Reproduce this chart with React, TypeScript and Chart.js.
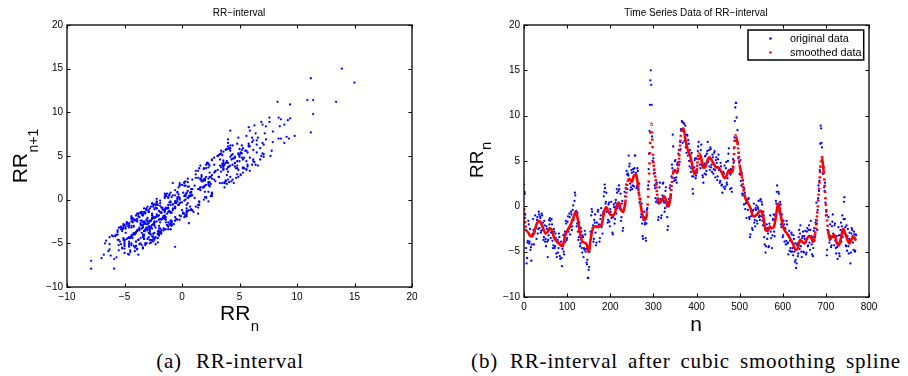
import React, { useEffect, useRef } from 'react';
import { Chart, registerables } from 'chart.js';

Chart.register(...registerables);

// ---------------- DATA ----------------
// RR-interval time series (original data), n = 0 .. 770
const originalData: number[] = [
  2.4, 1.6, 1.4, -0.9, -2.6, -4.6, -6.3, -5.7, -4.0, -3.8,
  -1.6, -2.0, -4.1, -3.9, -2.5, -4.8, -4.5, -6.0, -4.2, -3.1,
  -3.3, -1.4, -2.6, -4.2, -3.0, -2.8, -1.0, -2.4, -2.1, -3.6,
  -1.5, -1.2, -3.0, -2.5, -0.6, -0.9, -2.4, -1.1, -1.3, -2.9,
  -2.7, -0.8, -1.0, -2.6, -1.8, -3.7, -3.4, -1.6, -2.1, -3.9,
  -3.6, -4.4, -2.2, -2.5, -3.9, -5.6, -3.7, -3.2, -1.5, -2.0,
  -1.3, -1.6, -3.5, -2.9, -1.4, -2.0, -3.8, -4.6, -4.3, -2.5,
  -2.8, -4.6, -4.4, -3.0, -3.5, -5.2, -5.6, -4.0, -3.7, -5.1,
  -4.6, -3.0, -3.4, -5.5, -5.8, -4.2, -3.9, -5.7, -6.6, -4.7,
  -4.4, -3.2, -5.0, -5.3, -3.1, -2.8, -3.9, -1.6, -1.9, -3.7,
  -3.5, -1.7, -1.1, -2.8, -2.5, -0.8, -1.2, -3.1, -2.3, -0.6,
  -0.9, -2.6, -2.2, -0.4, 0.1, -1.5, -1.1, 0.6, 1.5, 1.2,
  -0.8, -0.5, -2.2, -1.9, -0.7, -2.8, -3.7, -3.4, -1.8, -2.3,
  -4.4, -4.1, -2.4, -2.8, -4.6, -5.1, -3.2, -3.4, -5.6, -4.6,
  -4.8, -2.7, -3.1, -5.0, -4.7, -6.2, -6.4, -5.9, -7.9, -7.9,
  -7.0, -6.7, -5.0, -4.6, -2.8, -3.1, -1.0, -0.3, -0.6, -2.4,
  -2.1, -3.9, -3.6, -1.5, -1.8, -0.9, -2.9, -4.3, -4.0, -1.8,
  -2.2, -0.6, -0.4, -2.3, -2.0, -3.9, -3.5, -1.4, -1.0, -0.2,
  -2.3, -2.0, -3.0, -0.8, -0.6, 1.1, 1.6, 2.4, 2.0, 0.3,
  0.5, 1.5, -0.6, -0.2, -1.8, -1.5, 0.2, 0.4, -1.7, -2.2,
  -0.3, -0.6, 0.5, -1.3, -1.0, -2.9, -3.1, -1.2, 0.2, -0.1,
  -1.9, -1.4, 0.4, 0.7, -0.8, 1.9, 1.5, -0.2, 0.0, 1.7,
  2.3, 1.9, 0.0, -0.3, 1.4, -1.6, -1.2, 0.3, 0.6, -2.7,
  -2.4, -0.5, -0.2, 1.6, 1.1, 0.2, 2.0, 2.4, 3.9, 3.5,
  1.9, 3.6, 3.4, 5.6, 4.4, 4.7, 2.5, 1.8, 2.1, 4.0,
  3.7, 1.9, 2.3, 4.1, 3.8, 2.2, 4.2, 5.6, 5.6, 3.4,
  3.7, 2.0, 2.2, 4.2, 3.9, 1.8, 1.4, 2.5, 0.4, 0.8,
  0.8, -1.2, -0.9, 0.3, -1.9, -3.3, -3.6, -1.5, -1.2, -0.6,
  -2.0, -1.8, -3.5, -3.8, -1.9, -0.4, -0.2, 1.9, 2.3, 4.1,
  5.8, 8.3, 11.2, 13.9, 15.0, 13.4, 11.2, 7.7, 5.0, 4.9,
  5.3, 3.6, 4.0, 2.3, 2.0, 0.9, 0.5, 2.4, 2.6, 0.7,
  0.4, -1.5, -1.2, 0.3, 2.1, 2.6, 0.8, 0.5, -1.3, -1.0,
  0.8, 1.2, 2.5, 2.6, 0.6, 0.4, -0.6, -0.2, 1.7, 2.1,
  0.3, 0.0, -1.2, -2.6, -2.2, 0.1, 0.8, 0.5, 2.0, 2.3,
  0.9, 1.2, 3.3, 4.6, 4.2, 7.9, 6.6, 3.9, 2.8, 3.1,
  5.0, 5.1, 2.9, 3.2, 2.6, 4.6, 4.8, 3.9, 5.8, 6.2,
  4.6, 4.9, 7.1, 6.3, 8.5, 8.4, 9.4, 9.3, 7.0, 8.6,
  9.2, 9.1, 7.2, 7.6, 8.9, 6.5, 6.8, 5.9, 7.9, 7.8,
  5.6, 7.3, 6.9, 5.0, 4.4, 6.2, 5.7, 3.8, 4.2, 5.9,
  3.3, 1.9, 1.4, 3.3, 3.9, 4.3, 5.1, 5.3, 3.1, 3.4,
  5.3, 3.7, 4.0, 6.1, 6.6, 7.1, 5.2, 5.3, 4.6, 4.2,
  6.2, 6.8, 4.6, 4.9, 3.4, 3.2, 2.6, 4.5, 4.7, 3.6,
  5.5, 5.6, 3.5, 3.9, 5.8, 6.1, 7.1, 4.9, 5.2, 6.2,
  4.4, 4.0, 6.5, 6.3, 4.3, 4.6, 3.8, 5.7, 5.4, 3.6,
  4.1, 5.9, 6.1, 4.0, 3.2, 5.1, 5.4, 4.8, 2.9, 3.3,
  5.2, 5.7, 4.0, 4.2, 2.6, 2.8, 4.8, 4.4, 2.3, 2.4,
  1.5, 3.6, 3.8, 2.1, 3.6, 4.5, 1.9, 2.2, 4.2, 4.9,
  2.6, 2.4, 3.1, 5.0, 5.8, 6.4, 4.0, 3.7, 1.9, 3.5,
  4.1, 2.0, 1.6, 3.9, 4.4, 5.2, 4.8, 6.4, 7.6, 9.4,
  10.9, 11.4, 11.4, 9.8, 7.3, 8.4, 7.0, 5.3, 5.9, 4.8,
  3.6, 3.5, 5.1, 2.8, 2.3, 3.7, 1.4, 1.2, 2.9, 2.1,
  0.2, 1.9, 1.5, -0.3, 0.3, 0.4, -1.3, 0.7, 0.5, -0.4,
  0.8, 0.9, -1.2, -1.4, -3.4, -3.1, -1.1, -0.3, -0.6, -2.4,
  -2.6, -0.5, -0.4, 0.3, -1.8, -1.5, -2.2, -0.2, -0.4, 0.1,
  -1.6, -1.9, -0.1, -0.3, 0.6, -1.2, -1.0, -1.5, 0.7, 0.8,
  -1.1, 0.5, 0.2, -1.6, -2.1, -0.6, -1.0, -3.4, -4.2, -2.3,
  -5.1, -4.4, -2.5, -2.0, -3.6, -2.4, -3.0, -4.5, -4.4, -1.9,
  -2.2, -1.0, -2.8, -3.5, -2.4, -4.6, -3.2, -1.5, -1.4, -0.9,
  -2.8, -3.3, -1.0, -1.4, 0.6, 0.3, 1.6, 2.3, -0.2, 0.2,
  1.6, 1.4, -0.6, -0.8, 0.5, 0.2, -2.0, -2.3, -0.9, -1.5,
  -3.4, -3.2, -1.6, -2.0, -3.9, -2.4, -2.5, -4.2, -3.8, -1.6,
  -2.0, -4.1, -4.0, -5.3, -3.2, -2.7, -4.9, -3.8, -4.6, -5.0,
  -2.9, -3.1, -5.0, -4.6, -5.4, -3.2, -3.6, -5.0, -6.1, -4.1,
  -5.9, -6.8, -6.3, -4.3, -4.1, -5.5, -5.2, -3.4, -2.6, -4.7,
  -3.0, -2.1, -4.4, -5.0, -5.6, -3.5, -3.3, -2.8, -5.0, -5.1,
  -3.3, -3.6, -2.7, -4.0, -5.3, -5.1, -2.8, -2.4, -4.4, -4.3,
  -2.6, -2.1, -4.0, -4.8, -2.6, -1.6, -3.3, -4.2, -5.3, -3.4,
  -5.5, -4.6, -2.7, -2.4, -3.8, -3.4, -1.8, -1.5, 0.4, -1.9,
  -2.6, -0.4, 0.9, 2.3, 1.7, 2.8, 4.0, 6.9, 8.9, 8.6,
  7.0, 6.5, 5.4, 3.6, 3.6, 4.3, 2.1, 1.7, 2.6, 0.4,
  -1.0, -0.6, -5.4, -4.8, -2.6, -2.9, -1.2, -3.4, -4.0, -3.7,
  -2.0, -3.3, -4.5, -4.3, -2.2, -1.7, -0.9, -3.0, -3.4, -4.3,
  -2.1, -1.9, -3.8, -4.6, -5.2, -3.3, -4.5, -5.8, -4.1, -2.3,
  -3.2, -5.2, -5.5, -3.2, -2.6, -1.8, -3.9, -2.2, -1.0, -3.4,
  -2.9, -1.4, 0.5, 1.0, -1.4, -2.3, -4.3, -4.4, -2.1, -4.9,
  -3.3, -2.5, -4.4, -5.2, -3.6, -2.9, -3.8, -6.3, -5.1, -3.0,
  -2.4, -2.6, -3.3, -4.0, -4.8, -2.8, -3.1, -5.0, -4.9, -3.1,
  -3.2,
];

// Cubic smoothing spline values, sampled every `smoothedStep` samples (n = 0, 5, ..., 770)
const smoothedStep = 5;
const smoothedData: number[] = [
  -0.2, -2.6, -2.9, -3.3, -3.2, -2.6, -1.9, -1.6, -1.9, -2.5,
  -3.0, -2.8, -2.4, -2.7, -3.5, -3.8, -4.0, -4.3, -4.3, -3.3,
  -2.7, -2.3, -1.8, -1.2, -0.6, -1.5, -3.0, -3.9, -4.0, -4.2,
  -5.0, -3.5, -2.4, -2.2, -2.3, -2.2, -2.0, -0.8, -0.1, -0.5,
  -0.9, -1.0, -0.8, 0.1, 0.4, -0.4, -0.6, 0.5, 2.7, 3.0,
  2.7, 3.4, 3.5, 2.0, 0.3, -1.0, -1.5, -0.8, 3.5, 9.1,
  5.0, 3.0, 1.0, 0.4, 0.7, 1.1, 0.6, 0.0, 1.2, 3.5,
  4.0, 3.7, 5.5, 8.2, 8.5, 7.2, 6.2, 5.6, 4.6, 3.6,
  4.0, 5.8, 5.5, 4.3, 4.3, 5.0, 5.4, 5.1, 4.7, 4.3,
  4.3, 4.0, 3.6, 3.1, 3.4, 4.0, 3.7, 4.2, 7.8, 7.0,
  4.6, 3.3, 1.5, 0.7, 0.3, -0.2, -1.0, -1.1, -0.9, -0.6,
  -0.5, -1.2, -2.6, -2.7, -2.3, -2.4, -2.2, -0.8, 0.3, -0.9,
  -2.1, -2.7, -3.0, -3.4, -3.8, -4.3, -4.8, -4.6, -3.7, -3.9,
  -4.1, -3.7, -3.3, -3.4, -3.9, -3.0, -0.8, 2.5, 5.4, 3.8,
  0.3, -2.6, -3.6, -3.3, -3.2, -4.0, -4.3, -3.5, -2.5, -3.0,
  -3.7, -4.1, -3.6, -3.4, -3.8,
];

const scatterXTicks = [-10, -5, 0, 5, 10, 15, 20];
const scatterYTicks = [-10, -5, 0, 5, 10, 15, 20];
const seriesXTicks = [0, 100, 200, 300, 400, 500, 600, 700, 800];
const seriesYTicks = [-10, -5, 0, 5, 10, 15, 20];

const titleA = 'RR\u2212interval';
const titleB = 'Time Series Data of RR\u2212interval';
const legendLabels = ['original data', 'smoothed data'];
const captionA = ['(a)', 'RR-interval'];
const captionB = ['(b)', 'RR-interval after cubic smoothing spline'];

// ---------------- STYLE ----------------
const SANS = '"Liberation Sans", Arial, Helvetica, sans-serif';
const SERIF = '"Liberation Serif", "Times New Roman", serif';
const BLUE = '#0000ff';
const RED = '#ff0000';
const TICK_LEN = 3.5;

const fmt = (v: number | string) => String(v).replace('-', '\u2212');

type Deco = {
  xTicks: number[];
  yTicks: number[];
  title: string;
  titleX: number;
  titleY: number;
  xLabel: { main: string; sub: string; x: number; y: number; size: number; subSize: number; subDy: number; center?: boolean };
  yLabel: { main: string; sub: string; x: number; y: number; size: number; subSize: number; subDy: number };
  legend?: { x: number; y: number; w: number; h: number };
};

function makeDecoPlugin(d: Deco) {
  return {
    id: 'deco',
    afterDatasetsDraw(chart: any) {
      const { ctx, chartArea: a } = chart;
      const xs = chart.scales.x;
      const ys = chart.scales.y;
      ctx.save();
      ctx.strokeStyle = '#000';
      ctx.lineWidth = 1;
      ctx.beginPath();
      for (const v of d.xTicks) {
        const px = Math.round(xs.getPixelForValue(v)) + 0.5;
        ctx.moveTo(px, a.bottom);
        ctx.lineTo(px, a.bottom - TICK_LEN);
        ctx.moveTo(px, a.top);
        ctx.lineTo(px, a.top + TICK_LEN);
      }
      for (const v of d.yTicks) {
        const py = Math.round(ys.getPixelForValue(v)) + 0.5;
        ctx.moveTo(a.left, py);
        ctx.lineTo(a.left + TICK_LEN, py);
        ctx.moveTo(a.right, py);
        ctx.lineTo(a.right - TICK_LEN, py);
      }
      ctx.stroke();
      ctx.lineWidth = 1.3;
      ctx.strokeRect(a.left, a.top, a.right - a.left, a.bottom - a.top);

      ctx.fillStyle = '#000';
      ctx.textBaseline = 'alphabetic';
      ctx.textAlign = 'center';
      ctx.font = `10px ${SANS}`;
      ctx.fillText(d.title, d.titleX, d.titleY);

      ctx.textAlign = 'left';
      const xl = d.xLabel;
      ctx.font = `${xl.size}px ${SANS}`;
      const mw = ctx.measureText(xl.main).width;
      ctx.font = `${xl.subSize}px ${SANS}`;
      const sw = xl.sub ? ctx.measureText(xl.sub).width : 0;
      const x0 = xl.center ? xl.x - (mw + sw) / 2 : xl.x;
      ctx.font = `${xl.size}px ${SANS}`;
      ctx.fillText(xl.main, x0, xl.y);
      if (xl.sub) {
        ctx.font = `${xl.subSize}px ${SANS}`;
        ctx.fillText(xl.sub, x0 + mw + 0.5, xl.y + xl.subDy);
      }

      const yl = d.yLabel;
      ctx.save();
      ctx.translate(yl.x, yl.y);
      ctx.rotate(-Math.PI / 2);
      ctx.font = `${yl.size}px ${SANS}`;
      const ymw = ctx.measureText(yl.main).width;
      ctx.fillText(yl.main, 0, 0);
      ctx.font = `${yl.subSize}px ${SANS}`;
      ctx.fillText(yl.sub, ymw + 0.5, yl.subDy);
      ctx.restore();

      if (d.legend) {
        const L = d.legend;
        ctx.fillStyle = '#fff';
        ctx.fillRect(L.x, L.y, L.w, L.h);
        ctx.lineWidth = 1.5;
        ctx.strokeStyle = '#000';
        ctx.strokeRect(L.x, L.y, L.w, L.h);
        const rows = [
          { c: BLUE, t: legendLabels[0], y: L.y + 8.5 },
          { c: RED, t: legendLabels[1], y: L.y + 22.5 },
        ];
        ctx.font = `10.8px ${SANS}`;
        ctx.textBaseline = 'middle';
        for (const r of rows) {
          ctx.fillStyle = r.c;
          ctx.beginPath();
          ctx.arc(L.x + 22.5, r.y, 1.2, 0, Math.PI * 2);
          ctx.fill();
          ctx.fillStyle = '#000';
          ctx.fillText(r.t, L.x + 42, r.y + 0.5);
        }
      }
      ctx.restore();
    },
  };
}

function axisOpts(ticksArr: number[], size: { w?: number; h?: number }) {
  return {
    type: 'linear' as const,
    min: ticksArr[0],
    max: ticksArr[ticksArr.length - 1],
    grid: { display: false, drawTicks: false },
    border: { display: false },
    afterBuildTicks: (s: any) => {
      s.ticks = ticksArr.map((v) => ({ value: v }));
    },
    afterFit: (s: any) => {
      if (size.w !== undefined) s.width = size.w;
      if (size.h !== undefined) s.height = size.h;
    },
    ticks: {
      autoSkip: false,
      maxRotation: 0,
      padding: 4,
      color: '#000',
      font: { family: SANS, size: 10 },
      callback: (v: any) => fmt(v),
    },
  };
}

const CW = 454;
const CH = 345;

export default function App() {
  const leftRef = useRef<HTMLCanvasElement>(null);
  const rightRef = useRef<HTMLCanvasElement>(null);

  useEffect(() => {
    const lagPoints = originalData.slice(0, -1).map((v, i) => ({ x: v, y: originalData[i + 1] }));
    const seriesPoints = originalData.map((v, i) => ({ x: i, y: v }));
    const smoothPoints = smoothedData.map((v, i) => ({ x: i * smoothedStep, y: v }));

    const left = new Chart(leftRef.current!, {
      type: 'scatter',
      data: {
        datasets: [
          {
            data: lagPoints,
            backgroundColor: BLUE,
            borderWidth: 0,
            pointRadius: 1.15,
            pointHoverRadius: 1.15,
          },
        ],
      },
      options: {
        animation: false,
        responsive: false,
        devicePixelRatio: 1,
        events: [],
        layout: { padding: { top: 25, right: 42, left: 0, bottom: 0 } },
        plugins: { legend: { display: false }, tooltip: { enabled: false }, title: { display: false } },
        scales: {
          x: { ...axisOpts(scatterXTicks, { h: CH - 287 }), position: 'bottom' },
          y: { ...axisOpts(scatterYTicks, { w: 67 }), position: 'left' },
        },
      },
      plugins: [
        makeDecoPlugin({
          xTicks: scatterXTicks,
          yTicks: scatterYTicks,
          title: titleA,
          titleX: 239,
          titleY: 16,
          xLabel: { main: 'RR', sub: 'n', x: 220, y: 320, size: 21, subSize: 15, subDy: 10.5 },
          yLabel: { main: 'RR', sub: 'n+1', x: 26.7, y: 183.3, size: 21, subSize: 14, subDy: 10.8 },
        }),
      ],
    } as any);

    const right = new Chart(rightRef.current!, {
      type: 'scatter',
      data: {
        datasets: [
          {
            data: smoothPoints,
            showLine: true,
            borderColor: RED,
            backgroundColor: RED,
            borderWidth: 2.6,
            borderCapStyle: 'butt',
            pointRadius: 0,
            tension: 0.35,
            order: 0,
            segment: {
              borderDash: (c: any) => {
                const len = Math.hypot(c.p1.x - c.p0.x, c.p1.y - c.p0.y);
                const step = len / smoothedStep;
                return step > 3 ? [2.2, step - 2.2] : undefined;
              },
            },
          },
          {
            data: seriesPoints,
            backgroundColor: BLUE,
            borderWidth: 0,
            pointRadius: 1.15,
            pointHoverRadius: 1.15,
            order: 1,
          },
        ],
      },
      options: {
        animation: false,
        responsive: false,
        devicePixelRatio: 1,
        events: [],
        layout: { padding: { top: 25, right: 39, left: 0, bottom: 0 } },
        plugins: { legend: { display: false }, tooltip: { enabled: false }, title: { display: false } },
        scales: {
          x: { ...axisOpts(seriesXTicks, { h: CH - 297 }), position: 'bottom' },
          y: { ...axisOpts(seriesYTicks, { w: 70 }), position: 'left' },
        },
      },
      plugins: [
        makeDecoPlugin({
          xTicks: seriesXTicks,
          yTicks: seriesYTicks,
          title: titleB,
          titleX: 242,
          titleY: 16,
          xLabel: { main: 'n', sub: '', x: 242, y: 331, size: 21, subSize: 15, subDy: 0, center: true },
          yLabel: { main: 'RR', sub: 'n', x: 29.3, y: 178, size: 19, subSize: 15, subDy: 8 },
          legend: { x: 294, y: 30, w: 115.7, h: 30 },
        }),
      ],
    } as any);

    return () => {
      left.destroy();
      right.destroy();
    };
  }, []);

  const capStyle: React.CSSProperties = {
    position: 'absolute',
    top: 351,
    height: 22,
    fontFamily: SERIF,
    fontSize: 21,
    lineHeight: '20px',
    letterSpacing: '0.8px',
    wordSpacing: '4px',
    whiteSpace: 'nowrap',
    color: '#000',
    textAlign: 'center',
  };

  return (
    <div style={{ position: 'absolute', left: 0, top: 0, width: 908, height: 376, background: '#fff', overflow: 'hidden' }}>
      <canvas ref={leftRef} width={CW} height={CH} style={{ position: 'absolute', left: 0, top: 0, width: CW, height: CH }} />
      <canvas ref={rightRef} width={CW} height={CH} style={{ position: 'absolute', left: 454, top: 0, width: CW, height: CH }} />
      <div style={{ ...capStyle, left: 80, width: 300 }}>
        <span>{captionA[0]}</span>
        <span style={{ marginLeft: 14 }}>{captionA[1]}</span>
      </div>
      <div style={{ ...capStyle, left: 456, width: 460 }}>
        <span>{captionB[0]}</span>
        <span style={{ marginLeft: 12 }}>{captionB[1]}</span>
      </div>
    </div>
  );
}
